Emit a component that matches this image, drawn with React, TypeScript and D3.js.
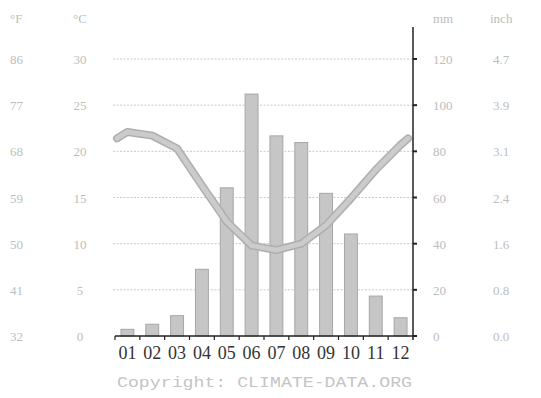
import React from "react";
import * as d3 from "d3";

const months = ["01", "02", "03", "04", "05", "06", "07", "08", "09", "10", "11", "12"];
const precipitation = [2.9, 5.1, 8.8, 28.9, 64.2, 104.8, 86.7, 83.8, 61.8, 44.2, 17.3, 7.9];
const temperature = [22.1, 21.7, 20.3, 16.3, 12.4, 9.8, 9.3, 10.0, 12.0, 14.9, 18.0, 20.7];
const fTicks = ["86", "77", "68", "59", "50", "41", "32"];
const cTicks = ["30", "25", "20", "15", "10", "5", "0"];
const mmTicks = [120, 100, 80, 60, 40, 20, 0];
const inchTicks = ["4.7", "3.9", "3.1", "2.4", "1.6", "0.8", "0.0"];

const W = 541;
const H = 398;
const left = 115;
const right = 413;
const top = 59;
const bottom = 336;

export default function App() {
  const x = d3.scaleBand<string>().domain(months).range([left, right]).paddingInner(0.48).paddingOuter(0.24);
  const xStep = d3.scaleBand<string>().domain(months).range([left, right]);
  const y = d3.scaleLinear().domain([0, 120]).range([bottom, top]);
  const yT = d3.scaleLinear().domain([0, 30]).range([bottom, top]);
  const cx = (m: string) => (xStep(m) as number) + xStep.bandwidth() / 2;

  const wrap = (temperature[0] + temperature[11]) / 2;
  const pts: [number, number][] = [
    [left + 2, yT(wrap)],
    ...months.map((m, i) => [cx(m), yT(temperature[i])] as [number, number]),
    [right - 5, yT(wrap)],
  ];
  const line = d3.line().curve(d3.curveLinear)(pts) || "";

  const txt = "#bdbdbd";
  const font = "'Liberation Serif', serif";

  return (
    <svg width={W} height={H} style={{ position: "absolute", left: 0, top: 0, background: "#fff" }}>
      {/* gridlines */}
      {mmTicks.filter((v) => v > 0).map((v) => (
        <line key={"g" + v} x1={left - 2} x2={right} y1={y(v)} y2={y(v)} stroke="#c8c8c8" strokeWidth={1} strokeDasharray="2,1.5" />
      ))}
      {/* bars */}
      {months.map((m, i) => (
        <rect key={"b" + m} x={x(m)} y={y(precipitation[i])} width={x.bandwidth()} height={bottom - y(precipitation[i])}
          fill="#c6c6c6" stroke="#a6a6a6" strokeWidth={1} />
      ))}
      {/* temperature line */}
      <path d={line} fill="none" stroke="#aeaeae" strokeWidth={8} strokeLinejoin="round" strokeLinecap="round" />
      <path d={line} fill="none" stroke="#cbcbcb" strokeWidth={5} strokeLinejoin="round" strokeLinecap="round" />
      {/* axes */}
      <line x1={right} x2={right} y1={27} y2={bottom + 4} stroke="#222" strokeWidth={1.5} />
      <line x1={left} x2={right} y1={bottom} y2={bottom} stroke="#222" strokeWidth={1.5} />
      {mmTicks.map((v) => (
        <line key={"t" + v} x1={right} x2={right + 4} y1={y(v)} y2={y(v)} stroke="#222" strokeWidth={2} />
      ))}
      {months.map((m) => (
        <line key={"xt" + m} x1={xStep(m) as number} x2={xStep(m) as number} y1={bottom} y2={bottom + 4} stroke="#222" strokeWidth={1.2} />
      ))}
      {months.map((m) => (
        <text key={"xl" + m} x={cx(m)} y={359} textAnchor="middle" fontFamily={font} fontSize={18} fill="#333">{m}</text>
      ))}
      {/* headers */}
      <text x={10} y={23} fontFamily={font} fontSize={13} fill={txt}>°F</text>
      <text x={80} y={23} textAnchor="middle" fontFamily={font} fontSize={13} fill={txt}>°C</text>
      <text x={433} y={23} fontFamily={font} fontSize={13} fill={txt}>mm</text>
      <text x={490} y={23} fontFamily={font} fontSize={13} fill={txt}>inch</text>
      {mmTicks.map((v, i) => (
        <g key={"l" + v} fontFamily={font} fontSize={13} fill={txt}>
          <text x={10} y={y(v) + 5}>{fTicks[i]}</text>
          <text x={80} y={y(v) + 5} textAnchor="middle">{cTicks[i]}</text>
          <text x={433} y={y(v) + 5}>{v}</text>
          <text x={493} y={y(v) + 5}>{inchTicks[i]}</text>
        </g>
      ))}
      <text x={117} y={387} textLength={295} lengthAdjust="spacingAndGlyphs" fontFamily="'Liberation Mono', monospace" fontSize={15} fill="#c4c4c4">Copyright: CLIMATE-DATA.ORG</text>
    </svg>
  );
}
